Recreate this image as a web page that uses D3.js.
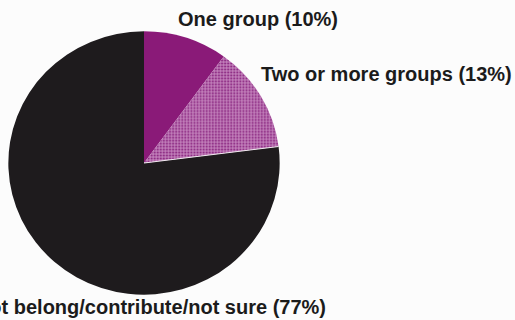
<!DOCTYPE html>
<html>
<head>
<meta charset="utf-8">
<script src="https://cdn.jsdelivr.net/npm/d3@7"></script>
<style>
  body { margin: 0; background: #fcfcfc; }
  svg { display: block; }
  .lbl { font-family: "Liberation Sans", Arial, Helvetica, sans-serif; font-weight: bold; font-size: 20px; fill: #1b1b1b; }
</style>
</head>
<body>
<div class="pie"></div>
<script>
// slice names and shares (%)
var categories = ["One group", "Two or more groups", "Do not belong/contribute/not sure"];
var values = [10, 13, 77];
var labels = ["One group (10%)", "Two or more groups (13%)", "Do not belong/contribute/not sure (77%)"];

var svgWidth = 515;
var svgHeight = 320;

var svg = d3.select(".pie")
  .append("svg")
  .attr("width", svgWidth)
  .attr("height", svgHeight);

// halftone look for the lighter slice
var defs = svg.append("defs");
var pat = defs.append("pattern")
  .attr("id", "dots")
  .attr("width", 3)
  .attr("height", 3)
  .attr("patternUnits", "userSpaceOnUse");
pat.append("rect").attr("width", 3).attr("height", 3).attr("fill", "#c27fba");
pat.append("circle").attr("cx", 1.5).attr("cy", 1.5).attr("r", 1.1).attr("fill", "#8e2c84");

var colors = d3.scaleOrdinal()
  .domain(categories)
  .range(["#8a1a78", "url(#dots)", "#1e1b1d"]);

var radius = 133;

var pie = d3.pie()
  .sort(null)
  .value(d => d.value);

var arc = d3.arc()
  .innerRadius(0)
  .outerRadius(radius);

var mydata = categories.map((c, i) => ({ name: c, value: values[i], label: labels[i] }));
var arcs = pie(mydata);

var chartGroup = svg.append("g")
  .attr("transform", "translate(144, 163) scale(1.02, 0.99)");

chartGroup.selectAll("path")
  .data(arcs)
  .enter()
  .append("path")
  .attr("d", arc)
  .attr("fill", d => colors(d.data.name));

// thin light edge where the pink slice meets the black one
var edge = arcs[2].startAngle;
chartGroup.append("line")
  .attr("x1", 0)
  .attr("y1", 0)
  .attr("x2", Math.sin(edge) * radius)
  .attr("y2", -Math.cos(edge) * radius)
  .attr("stroke", "#f2e8f0")
  .attr("stroke-width", 1.2);

// labels (the bottom one runs off the left edge, as in the original scan)
var labelPos = [
  { x: 178, y: 26, anchor: "start" },
  { x: 261, y: 81, anchor: "start" },
  { x: 326, y: 314, anchor: "end" }
];

svg.selectAll(".lbl")
  .data(arcs)
  .enter()
  .append("text")
  .attr("class", "lbl")
  .attr("x", (d, i) => labelPos[i].x)
  .attr("y", (d, i) => labelPos[i].y)
  .attr("text-anchor", (d, i) => labelPos[i].anchor)
  .text(d => d.data.label);
</script>
</body>
</html>
